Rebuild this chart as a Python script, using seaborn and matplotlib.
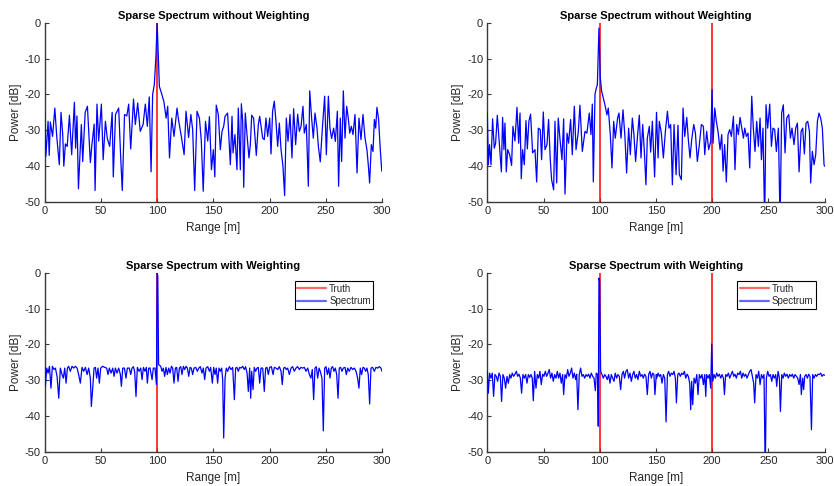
import matplotlib
matplotlib.use("Agg")
import matplotlib.pyplot as plt
from matplotlib.lines import Line2D
import seaborn as sns

# ---------------- data ----------------
titles = ["Sparse Spectrum without Weighting", "Sparse Spectrum without Weighting",
          "Sparse Spectrum with Weighting", "Sparse Spectrum with Weighting"]
x_label = "Range [m]"
y_label = "Power [dB]"
x_ticks = [0, 50, 100, 150, 200, 250, 300]
y_ticks = [0, -10, -20, -30, -40, -50]
legend_labels = ["Truth", "Spectrum"]

truth_pos_one = [100]
truth_db_one = [0.0]
truth_pos_two = [100, 200]
truth_db_two = [0.0, 0.0]

range_tl = [0, 1, 3, 4, 5, 7, 9, 10.7, 13, 14.5, 16, 17, 18.4, 20, 22, 24, 26.4, 27.5, 28.7, 30,
            32.6, 33.8, 36, 38, 40.6, 42, 44, 44.8, 46.5, 48, 50.4, 52, 54, 55.7, 57.8, 60, 61, 63,
            65.8, 67.6, 69, 71, 73, 74.7, 76.5, 79, 80.6, 82.7, 85, 87.5, 89.5, 91.3, 93, 94.6, 96,
            97.5, 99, 100, 101, 102, 103.8, 106, 108, 109.4, 111, 113, 115, 117.7, 119, 121.5, 124,
            125.7, 128, 130, 131.6, 133.4, 135.5, 137.6, 139.3, 141, 143, 145, 146.5, 148.3, 150,
            151.3, 152.6, 154.4, 156.2, 157.7, 159.2, 160.4, 162.7, 165.1, 166.6, 167.5, 169.2, 171,
            172.2, 174, 174.9, 176.1, 177, 178.4, 179.9, 181.7, 182.9, 184.1, 185.8, 188.2, 190,
            191.2, 193.9, 195.3, 196.8, 198.3, 200.1, 201.3, 202.7, 204.2, 205.7, 207.2, 208.7,
            210.2, 211.9, 213.4, 214.9, 216.4, 218.2, 219.9, 221.4, 223.2, 225, 226.5, 228, 229.7,
            230.9, 232.7, 234.5, 235.7, 237.4, 238.9, 240.4, 242.2, 243.4, 245.1, 246.9, 249, 250.5,
            252.3, 253.7, 255.2, 257, 258.5, 260.3, 261.4, 262.9, 264.1, 265.6, 267.1, 268.6, 270,
            271.3, 272.7, 274.2, 276, 277.8, 279.5, 281.3, 283.1, 284.9, 286.6, 287.8, 289, 290.5,
            292, 293.2, 294.4, 295.5, 297, 298.2, 299.7, 300]
power_tl = [-24.7, -37.3, -27.5, -37, -27.7, -31.7, -23.8, -31.7, -39.6, -25, -31, -40, -33.8, -34.5,
            -25.8, -36.8, -22.2, -35, -26, -46.3, -28.4, -38.7, -25, -23.3, -39, -34, -28.3, -46.8,
            -22.7, -33, -22.7, -38.2, -27.5, -32.3, -34.5, -25, -43, -25.6, -23.8, -37.7, -46.8,
            -25.6, -26, -22.7, -35.2, -21.3, -28.4, -22.4, -30.3, -28.4, -22.7, -28.9, -20.7, -41.6,
            -20, -17.3, -9, 0, -9, -17.8, -19.6, -22, -26.6, -23.3, -37.7, -26.6, -31.7, -23.8, -27,
            -31.7, -36.8, -24.7, -32, -25.6, -29.8, -46.8, -24.7, -26.6, -33, -47, -27.5, -33, -26.2,
            -41, -35.4, -43, -23, -25.6, -35.4, -30.3, -28.9, -26.1, -25.2, -39.6, -26.1, -36.3,
            -31.2, -41, -23.8, -41, -22.6, -27.5, -45.9, -25.2, -31.2, -37.7, -34, -25.8, -26.6, -37,
            -28.4, -26.1, -32.2, -32.6, -26.6, -31.7, -26.6, -36.6, -24.7, -21.9, -27.5, -34.5, -28,
            -35.4, -40, -48.2, -26.6, -33.1, -25.6, -37.7, -24, -34, -25.5, -30.3, -28.9, -23.3,
            -30.8, -28.4, -45.6, -19, -26.6, -32.2, -25.2, -29.4, -34.5, -38.8, -29.7, -20.5, -36.8,
            -20.5, -29.4, -32.3, -29.4, -33.1, -24.7, -45.6, -26.6, -38.7, -19, -32.2, -23.3, -26.6,
            -30.8, -28.9, -31.2, -25.6, -41.9, -26.6, -32.6, -25.6, -32.2, -35.4, -39.6, -44.7, -34,
            -35.9, -27, -29.4, -23.6, -27, -34, -41, -41.5]

range_tr = [0, 0.9, 2, 3.3, 4.7, 6.2, 7.4, 8.9, 10.7, 12.5, 13.6, 14.8, 15.7, 16.9, 18.1, 19.9, 21.6,
            22.8, 24.6, 26.4, 27.9, 29.1, 30.2, 31.4, 32.9, 34.4, 35.6, 37, 38.5, 40.3, 42.4, 43.9,
            45.4, 47.1, 48.3, 49.8, 51.3, 53.1, 54.5, 56, 57.2, 59, 60.2, 61.7, 63.1, 64.6, 66.4,
            67.9, 69.1, 70.9, 72.3, 74.1, 75.6, 77.4, 78.9, 80.9, 82.4, 84.5, 86.9, 88.6, 90.7, 92.2,
            93.4, 94.3, 95.8, 97, 97.9, 99.3, 100.5, 101.7, 103.2, 104.7, 106.4, 107.6, 109.4, 110.9,
            112.4, 113.8, 115.9, 117.1, 118.9, 120.7, 122.4, 123.9, 125.7, 127.2, 129, 130.4, 131.9,
            133.7, 135.2, 136.7, 138.2, 139.6, 141.1, 142.3, 144.1, 145.3, 146.8, 148.8, 150.5,
            151.9, 153, 154.8, 156.6, 158.4, 160.2, 161.6, 163.1, 164.6, 166.1, 167.9, 169.6, 170.8,
            172.6, 174.1, 175.6, 177.4, 178.8, 180.3, 181.8, 183.6, 185.1, 186.8, 188.6, 190.4,
            192.2, 193.4, 195.1, 196.9, 198.7, 199.9, 200.8, 202.3, 203.7, 205.2, 207, 208.5, 209.7,
            211.1, 212.6, 214.1, 215.6, 217.1, 218.9, 220.3, 221.8, 223.3, 224.8, 226.3, 227.8, 229,
            230.4, 231.9, 233.4, 235.2, 236.6, 238.1, 239.6, 241.1, 242.6, 243.8, 245.2, 246.7,
            247.9, 249.4, 251.2, 252.7, 254.1, 255.6, 257.1, 258.9, 260.4, 261.8, 263.3, 264.8,
            266.3, 268.1, 269.6, 271, 272.8, 274.3, 275.8, 277.3, 279.1, 280.5, 282, 283.5, 285,
            286.5, 287.6, 289.1, 290.6, 292.1, 293.6, 295, 296.5, 298, 299.5, 300]
power_tr = [-25.2, -39.6, -34, -39.6, -26.8, -35, -33.6, -25.8, -33.6, -41.6, -26.4, -35.4, -28, -41.6,
            -35.4, -36.8, -39.8, -28.9, -33, -23.6, -33.6, -25.2, -43.5, -35.4, -39.6, -27.3, -35.2,
            -27.5, -25.5, -36.3, -35.4, -44.4, -29.4, -29.8, -38.2, -24.9, -35.4, -34, -27, -38.2,
            -43.8, -46.6, -27.5, -44.7, -26.6, -32.3, -38.2, -26.8, -47.8, -30.8, -33.6, -27, -36.8,
            -23.3, -35.4, -30.5, -23, -35.9, -30.3, -30.8, -25.2, -31.2, -22.7, -44.4, -19.9, -18.2,
            -17.3, -1.5, -15.4, -19.1, -21, -23, -25.7, -23.8, -31.2, -40.5, -27.5, -32.2, -26.6,
            -25.2, -32.2, -24.3, -31.7, -41.9, -29.4, -36.8, -26.6, -31.2, -38.7, -31.2, -25.8,
            -37.7, -28.4, -35.4, -45.2, -32.2, -28.9, -36.1, -27.5, -43, -25, -37.7, -27.5, -30.8,
            -37.7, -30.3, -24.7, -29.4, -28.4, -45.2, -28.4, -42.4, -28.6, -42.4, -43.8, -23.8,
            -31.7, -26.4, -32.6, -37.7, -32.6, -28.4, -30.8, -38.7, -34, -28.4, -28.9, -36.8, -30.3,
            -35.4, -33.1, -18.7, -33.6, -23.8, -27.5, -30.3, -35.4, -31.2, -41.4, -34, -44.4, -31.2,
            -29.8, -31.7, -26.1, -41, -28.4, -31.2, -26.4, -29.4, -32.2, -29.4, -31.7, -30.8, -40.5,
            -20.5, -29.4, -35.9, -27.5, -34.5, -26.6, -38.2, -29.4, -56, -22.9, -29.4, -22.7, -34.5,
            -29.4, -29.8, -35.9, -29.4, -56, -25.2, -22.9, -36.3, -26.6, -25.6, -32.2, -29.4, -34,
            -29.4, -28, -41.6, -30.3, -29.4, -36.6, -28, -27.5, -30.3, -44.7, -35.9, -39.6, -36.8,
            -27.5, -25.2, -26.6, -29.4, -39.6, -40]

range_bl = [0, 0.6, 1.8, 3, 4.2, 5.6, 6.8, 8.3, 9.5, 11, 12.5, 13.9, 15.4, 16.6, 17.8, 19, 20.2, 21.3,
            22.8, 24.3, 25.8, 27.3, 28.8, 30.2, 31.7, 33.2, 34.7, 36.2, 37.7, 39.1, 40.6, 41.5, 42.7,
            43.9, 45.1, 46.2, 47.4, 48.6, 49.8, 51.6, 53.4, 55.1, 56.3, 57.5, 59, 60.5, 61.7, 62.9,
            64.3, 65.8, 67.3, 68.2, 69.4, 70.9, 72.3, 73.5, 75.3, 76.5, 77.7, 78.9, 80, 81.2, 82.4,
            83.9, 85.4, 86.6, 87.8, 89.2, 90.4, 91.3, 92.5, 93.7, 95.5, 96.6, 98.1, 99.4, 100, 100.6,
            101.3, 103.2, 104.4, 105.5, 106.7, 107.9, 109.1, 110.3, 111.5, 112.7, 113.8, 115, 116.2,
            117.4, 118.6, 119.8, 121, 122.1, 123.3, 124.5, 125.7, 126.9, 128.1, 129.3, 130.4, 131.6,
            132.8, 134.3, 135.8, 137, 138.4, 139.9, 141.1, 142.3, 143.5, 145, 146.5, 147.6, 149.1,
            150.3, 151.5, 152.6, 153.8, 155, 156.2, 157.4, 158.3, 159.2, 160.4, 161.5, 162.7, 164.2,
            165.7, 167.2, 168.7, 169.8, 171, 172.2, 173.4, 174.6, 176.1, 177.5, 178.7, 180, 181.1,
            182.3, 183.2, 184.1, 185.3, 186.4, 187.6, 188.8, 190, 191.2, 192.4, 193.9, 195.3, 196.5,
            197.7, 198.9, 200.1, 201.6, 203.1, 204.2, 205.7, 207.2, 208.7, 210.2, 211.3, 212.5,
            213.7, 214.9, 216.1, 217.6, 219.1, 220.5, 222, 223.5, 225, 226.5, 227.9, 229.4, 230.9,
            232.4, 233.9, 235.4, 236.8, 238, 239.2, 240.4, 241.6, 242.8, 244, 245.1, 246.6, 247.8,
            249, 250.2, 251.4, 252.6, 253.7, 254.9, 256.1, 257.3, 258.5, 259.7, 260.9, 262, 263.2,
            264.4, 265.6, 267.1, 268.3, 269.5, 270.9, 272.4, 273.9, 275.4, 276.9, 278.3, 279.5,
            280.7, 281.9, 283.1, 284.3, 285.5, 286.6, 287.8, 289, 290.2, 291.7, 293.2, 294.6, 296.1,
            297.6, 299.1, 300]
power_bl = [-26.6, -31.7, -26.6, -28, -26.1, -32.2, -26.1, -27, -26.6, -28.9, -35, -26.6, -28.4, -29.4,
            -26.6, -30.8, -26.6, -26.1, -27.5, -26.1, -26.6, -26.1, -26.6, -28.4, -30.8, -26.4, -27.5,
            -26.4, -28.4, -26.6, -29.4, -37.3, -32.2, -26.6, -26.4, -29.4, -26.6, -30.8, -26.6, -26.1,
            -26.4, -26.6, -28.4, -26.6, -28, -26.6, -28.9, -26.6, -28, -26.6, -28.4, -31.7, -26.6,
            -26.6, -29.4, -26.6, -26.6, -28.4, -26.6, -26.2, -27.5, -34.5, -26.4, -27.5, -26.6, -29.8,
            -26.4, -27.5, -26.4, -30.8, -26.6, -26.6, -29.8, -26.6, -26.6, -31.2, 0, -1, -25.6, -26.1,
            -27.5, -26.6, -28.9, -26.4, -28.4, -26.6, -28, -26.1, -26.6, -30.8, -26.6, -26.4, -30.3,
            -26.6, -26.2, -28.4, -26.1, -27, -26.1, -26.6, -28.9, -26.4, -26.6, -28.4, -26.6, -26.4,
            -27.5, -26.6, -26.2, -28, -26.6, -29.8, -26.6, -26.2, -27.5, -26.4, -30.8, -26.4, -28.4,
            -26.6, -30.8, -26.6, -27.5, -26.6, -29.8, -46.1, -29.4, -26.6, -27.5, -26.2, -27, -26.4,
            -35.4, -26.6, -26.4, -27.5, -26.4, -26.6, -26.1, -27, -26.2, -28, -33.1, -26.6, -35,
            -27.5, -32.6, -26.4, -27.5, -26.6, -26.4, -30.8, -26.6, -26.6, -33.1, -26.6, -26.4,
            -28.4, -26.4, -26.2, -28.4, -26.4, -26.6, -27, -26.2, -27.5, -31.2, -26.6, -26.4, -27,
            -26.6, -28.4, -26.6, -26.2, -27.5, -26.6, -26.2, -27, -26.4, -26.6, -26.4, -27.5, -26.6,
            -28.4, -29.4, -27, -35.4, -26.6, -26.2, -29.4, -26.6, -27.5, -29.4, -44.1, -26.6, -26.2,
            -28.4, -26.6, -29.4, -26.6, -26.2, -27.5, -26.6, -28.4, -35, -26.6, -26.4, -27.5, -26.6,
            -26.4, -28.4, -26.6, -27.5, -26.4, -27, -26.6, -27.5, -29.4, -32.2, -26.6, -28.4, -26.4,
            -26.6, -27.5, -26.6, -28.4, -36.6, -26.6, -26.4, -27.5, -26.4, -26.6, -26.2, -26.6, -27.5]

range_br = [0, 0.9, 2, 3.3, 4.4, 5.6, 6.8, 8, 9.2, 10.4, 11.6, 12.7, 13.9, 15.1, 16.3, 17.5, 18.7, 19.9,
            21, 22.2, 23.4, 24.6, 25.8, 27, 28.2, 29.4, 30.5, 31.7, 32.9, 34.1, 35.3, 36.5, 37.7,
            38.8, 40, 40.9, 42.1, 43.3, 44.5, 45.7, 46.8, 48, 49.2, 50.4, 51.6, 52.8, 54, 55.1, 56.3,
            57.5, 58.7, 59.9, 61.1, 62.3, 63.4, 64.6, 65.8, 67, 67.9, 69.1, 70.3, 71.5, 72.6, 73.8,
            75, 76.2, 77.4, 78.6, 79.5, 80.6, 81.8, 83, 84.2, 85.4, 86.6, 87.8, 88.9, 90.1, 91.3,
            92.5, 93.7, 94.9, 96.1, 96.9, 98.1, 98.7, 99.3, 99.9, 100.8, 102, 103.2, 104.4, 105.5,
            106.7, 107.9, 109.1, 110.3, 111.5, 112.7, 113.8, 115, 116.2, 117.4, 118.6, 119.8, 121,
            122.1, 123.3, 124.5, 125.7, 126.9, 128.1, 129.3, 130.4, 131.6, 132.8, 134, 135.2, 136.4,
            137.6, 138.7, 139.9, 141.1, 142.3, 143.5, 144.7, 145.9, 147, 148.2, 149.1, 150.3, 150.7,
            151.9, 153, 154.2, 155.4, 156.6, 157.8, 159, 160.2, 161.3, 162.5, 163.7, 164.9, 166.1,
            167.3, 168.2, 169.4, 170.5, 171.7, 172.9, 174.1, 175.3, 176.5, 177.7, 178.8, 180, 180.9,
            181.8, 182.7, 183.9, 185.1, 186.3, 187.4, 188.6, 189.8, 191, 192.2, 193.4, 194.3, 195.1,
            196.3, 197.5, 198.7, 199.6, 200.5, 201.7, 202.9, 204, 205.2, 206.4, 207.6, 208.8, 210,
            210.9, 212, 213.2, 214.4, 215.6, 216.8, 218, 219.2, 220.3, 221.5, 222.7, 223.9, 225.1,
            226.3, 227.5, 228.6, 229.8, 231, 232.2, 233.4, 234.6, 235.8, 236.9, 237.8, 239, 240.2,
            241.4, 242.6, 243.8, 245, 246.1, 247.2, 248.2, 249.4, 250.6, 251.8, 253, 254.1, 255.3,
            256.5, 257.4, 258.6, 259.8, 260.7, 261.9, 263.1, 264.2, 265.4, 266.6, 267.8, 269, 270.2,
            271.3, 272.5, 273.7, 274.9, 276.1, 277.3, 278.5, 279.3, 280.5, 281.4, 282.3, 283.5,
            284.7, 285.8, 287, 288.3, 289.4, 290.6, 291.8, 293, 294.2, 295.4, 296.5, 297.7, 298.9, 300]
power_br = [-27.5, -33.6, -28, -29.4, -28, -34.5, -28.4, -28.9, -30.3, -28, -28.9, -35.9, -28.4, -29.4,
            -32.2, -28.9, -30.8, -28.4, -29.4, -28, -28.9, -28.3, -27.5, -28.9, -28.3, -29.4, -33.6,
            -28.4, -29.4, -28.4, -30.8, -28.4, -29.2, -28.4, -29.4, -35.7, -27.5, -32.2, -28.4, -29.4,
            -27.5, -31.2, -28.3, -28.9, -27.5, -28.9, -28, -27, -29.4, -28, -30.3, -28.4, -29.4,
            -27.5, -29.4, -28, -30.8, -28.4, -34, -28.4, -29.4, -27, -28.9, -28, -26.6, -29.4, -28,
            -29.8, -28.3, -38.2, -28.4, -26.6, -28.9, -28.4, -29.4, -28.4, -28.9, -28.3, -29.4, -28,
            -28.9, -29.4, -32.9, -28, -28.4, -42.8, -1.5, -2.4, -27.5, -28.4, -29.4, -28.4, -28.9,
            -29.8, -28.4, -30.8, -28.4, -29.4, -30.3, -28, -29.4, -28.4, -28.9, -32.6, -28.4, -27.5,
            -29.4, -27.5, -27, -29.4, -28, -30.3, -28.4, -27.5, -29.4, -28.4, -29.8, -27.5, -28.9,
            -28.4, -29.4, -28.3, -28.9, -34, -28.4, -27.5, -29.4, -28, -28.4, -34, -28.4, -29.4, -28,
            -28.9, -28.4, -30.8, -28.4, -29.4, -41.6, -28.4, -27.5, -28.9, -28, -28.4, -27.5, -29.4,
            -36.3, -28.4, -28, -28.9, -28, -28.4, -27.5, -29.4, -28.3, -28.9, -30.8, -38.2, -30.3,
            -36.8, -29.4, -30.8, -28.4, -34, -28.4, -29.4, -28.4, -31.2, -28.4, -34.5, -28.4, -29.4,
            -28.4, -32.2, -19.9, -30.3, -28.4, -29.4, -28, -28.9, -28.3, -29.4, -28.4, -29.4, -34,
            -28.4, -28.9, -28, -29.4, -28.4, -27.5, -28.9, -28.3, -29.4, -28, -28.4, -27.5, -29.4,
            -28, -28.9, -28.3, -29.4, -28.4, -27.5, -27, -28.9, -30.8, -36.3, -28.4, -29.4, -27.5,
            -31.2, -28.4, -29.4, -28.4, -56, -29.4, -27.5, -28.9, -28.4, -30.3, -28.4, -29.4, -28.4,
            -31.7, -27.5, -29.4, -38.7, -28.4, -29.4, -28, -28.9, -28.3, -29.4, -28.4, -28.9, -28.3,
            -29.4, -28.4, -28.9, -29.4, -31.2, -28.4, -34, -29.4, -32.6, -28.9, -28.4, -29.4, -28.3,
            -28.9, -43.8, -28.4, -29.4, -28.4, -28.9, -28.3, -28.4, -28, -28.9, -28.4, -28.6]

# ---------------- figure ----------------
sns.set_style("ticks")
plt.rcParams['font.family'] = ['Liberation Sans', 'DejaVu Sans']
plt.rcParams['axes.unicode_minus'] = False

fig = plt.figure(figsize=(8.34, 4.86), dpi=100)
W, H = 834.0, 486.0
panel_boxes = [(44.7, 22.7), (487.3, 22.7), (44.7, 272.7), (487.3, 272.7)]
ax_w, ax_h = 337.3, 179.3

panels = [
    (range_tl, power_tl, truth_pos_one, truth_db_one, False),
    (range_tr, power_tr, truth_pos_two, truth_db_two, False),
    (range_bl, power_bl, truth_pos_one, truth_db_one, True),
    (range_br, power_br, truth_pos_two, truth_db_two, True),
]

axis_col = '#3a3a3a'
text_col = '#262626'
for (left, top), title, (rng, pw, tpos, tdb, show_leg) in zip(panel_boxes, titles, panels):
    ax = fig.add_axes([left / W, 1 - (top + ax_h) / H, ax_w / W, ax_h / H])
    ax.vlines(tpos, -60, tdb, color='red', lw=1.1, zorder=2)
    sns.lineplot(x=rng, y=pw, ax=ax, color='blue', lw=0.9, sort=False,
                 estimator=None, legend=False, zorder=3)
    ax.set_xlim(0, 300)
    ax.set_ylim(-50, 0)
    ax.set_xticks(x_ticks)
    ax.set_yticks(y_ticks)
    ax.set_xticklabels([str(v) for v in x_ticks])
    ax.set_yticklabels([str(v) for v in y_ticks])
    ax.tick_params(direction='in', length=3, width=0.8, colors=axis_col,
                   labelcolor=text_col, labelsize=8, pad=3)
    for s in ['top', 'right']:
        ax.spines[s].set_visible(False)
    for s in ['left', 'bottom']:
        ax.spines[s].set_color(axis_col)
        ax.spines[s].set_linewidth(1.0)
    ax.set_xlabel(x_label, fontsize=8.5, color=text_col, labelpad=4.5)
    ax.set_ylabel(y_label, fontsize=8.5, color=text_col, labelpad=2)
    ax.set_title(title, fontsize=8, fontweight='bold', color='black', pad=3)
    if show_leg:
        handles = [Line2D([], [], color='red', lw=1.6, alpha=0.6),
                   Line2D([], [], color='blue', lw=1.6, alpha=0.6)]
        leg = ax.legend(handles, legend_labels, loc='upper right', fontsize=7,
                        frameon=True, fancybox=False, framealpha=1, edgecolor='black',
                        handlelength=3.0, handletextpad=0.3, labelspacing=0.25,
                        borderpad=0.25, borderaxespad=0.9)
        leg.get_frame().set_linewidth(0.8)
        for t in leg.get_texts():
            t.set_color(text_col)

fig.savefig("out.png", dpi=100)
